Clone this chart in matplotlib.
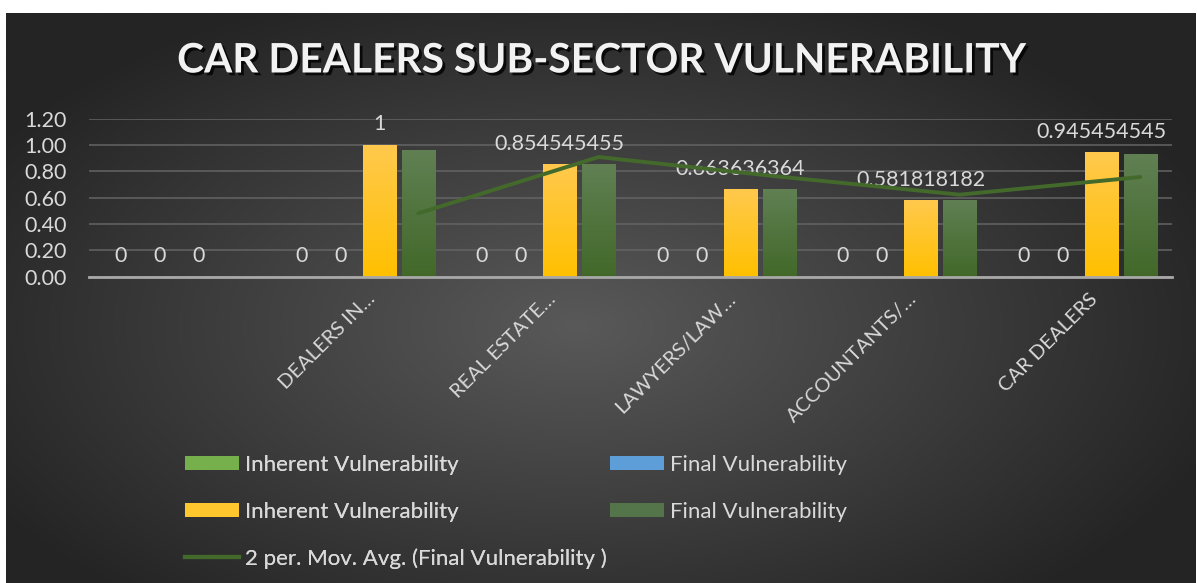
import numpy as np
import pandas as pd
import matplotlib
matplotlib.use('Agg')
import matplotlib.pyplot as plt
from matplotlib.colors import LinearSegmentedColormap, to_rgb
from matplotlib.patches import Patch
from matplotlib.lines import Line2D
import matplotlib.patheffects as pe

# ---------------- data ----------------
title = 'CAR DEALERS SUB-SECTOR VULNERABILITY'
categories = ['', 'DEALERS IN…', 'REAL ESTATE…', 'LAWYERS/LAW…', 'ACCOUNTANTS/…', 'CAR DEALERS']
inherent_a = [0, 0, 0, 0, 0, 0]
final_a = [0, 0, 0, 0, 0, 0]
inherent_b = [0, 1, 0.854545455, 0.663636364, 0.581818182, 0.945454545]
final_b = [0, 0.962, 0.856, 0.664, 0.582, 0.932]
yticks = [0.0, 0.2, 0.4, 0.6, 0.8, 1.0, 1.2]
legend_labels = ['Inherent Vulnerability', 'Final Vulnerability',
                 'Inherent Vulnerability', 'Final Vulnerability',
                 '2 per. Mov. Avg. (Final Vulnerability )']

plt.rcParams['font.family'] = ['Lato', 'DejaVu Sans']
TXT = '#d9d9d9'
W, H = 1197, 583
fig = plt.figure(figsize=(W / 100, H / 100), dpi=100)
fig.patch.set_facecolor('white')

# background radial gradient
bg = fig.add_axes([6 / W, 0, 1190 / W, 570 / H])
bg.set_axis_off()
yy, xx = np.mgrid[0:1:300j, 0:1:600j]
r = np.sqrt(((xx - 0.48) / 0.5) ** 2 + ((yy - 0.45) / 0.55) ** 2)
t = np.clip(r / 1.15, 0, 1)
c0 = np.array(to_rgb('#595959'))
c1 = np.array(to_rgb('#242424'))
img = c0[None, None, :] * (1 - t[..., None]) + c1[None, None, :] * t[..., None]
bg.imshow(img, extent=(0, 1, 0, 1), origin='lower', aspect='auto', interpolation='bicubic')
bg.set_xlim(0, 1)
bg.set_ylim(0, 1)

# main axes
ax = fig.add_axes([89 / W, (H - 276.7) / H, (1172 - 89) / W, (276.7 - 118.7) / H])
ax.set_facecolor('none')
x = np.arange(len(categories))
bw = 0.183
step = 0.216
offs = [-1.5 * step, -0.5 * step, 0.5 * step, 1.5 * step]
series = [inherent_a, final_a, inherent_b, final_b]
grads = [('#80BB5A', '#6AA840'), ('#66A6E0', '#5393CF'),
         ('#FFC94D', '#FFC000'), ('#608053', '#426829')]

def grad_bar(patch, c_top, c_bot):
    x0, y0 = patch.get_x(), patch.get_y()
    w, h = patch.get_width(), patch.get_height()
    if h <= 0:
        patch.set_visible(False)
        return
    cmap = LinearSegmentedColormap.from_list('g', [c_bot, c_top])
    g = np.linspace(0, 1, 256).reshape(-1, 1)
    im = ax.imshow(g, extent=(x0, x0 + w, y0, y0 + h), origin='lower', cmap=cmap,
                   aspect='auto', zorder=2, interpolation='bicubic')
    im.set_clip_path(patch)

bar_groups = []
for k, (vals, off, (ct, cb)) in enumerate(zip(series, offs, grads)):
    bars = ax.bar(x + off, vals, bw, color=cb, zorder=2, linewidth=0)
    for p in bars:
        grad_bar(p, ct, cb)
    bar_groups.append(bars)

# data labels for first three series
for k in range(3):
    for p, v in zip(bar_groups[k], series[k]):
        ax.annotate('%.9g' % v, xy=(p.get_x() + p.get_width() / 2, v),
                    xytext=(0, 14.8), textcoords='offset points', ha='center', va='center',
                    color=TXT, fontsize=15.5, zorder=3)

# moving average trendline of final_b
ma = pd.Series(final_b).rolling(2).mean()
mask = ma.notna().values
ax.plot((x + offs[3])[mask], ma.values[mask], color='#43692B', lw=2.8,
        solid_capstyle='round', zorder=4)

ax.set_xlim(-0.5, len(categories) - 0.5)
ax.set_ylim(0, 1.2)
ax.set_yticks(yticks)
ax.set_yticklabels(['%.2f' % v for v in yticks], color=TXT, fontsize=15.5)
ax.tick_params(axis='y', length=0, pad=16)
ax.set_xticks([])
ax.grid(axis='y', color='#646464', lw=1.1, zorder=0)
ax.set_axisbelow(True)
for s in ['top', 'right', 'left']:
    ax.spines[s].set_visible(False)
ax.spines['bottom'].set_color('#a8a8a8')
ax.spines['bottom'].set_linewidth(2)
ax.spines['bottom'].set_zorder(5)

for i, c in enumerate(categories):
    ax.annotate(c, xy=(i, 0), xycoords=('data', 'axes fraction'),
                xytext=(9, -14), textcoords='offset points', rotation=45,
                ha='right', va='center', rotation_mode='anchor',
                color=TXT, fontsize=14.5)

# title
fig.text(602 / W, (H - 61) / H, title, ha='center', va='center', color='#f2f2f2',
         fontsize=29.3, fontweight='bold',
         path_effects=[pe.withSimplePatchShadow(offset=(2, -2), shadow_rgbFace='black', alpha=0.8)])

# legend
h = [Patch(facecolor='#76B04D', edgecolor='none'),
     Patch(facecolor='#5D9DD8', edgecolor='none'),
     Patch(facecolor='#FFC62E', edgecolor='none'),
     Patch(facecolor='#537549', edgecolor='none'),
     Line2D([0], [0], color='#43692B', lw=3)]
kw = dict(frameon=False, fontsize=16, labelcolor=TXT, handlelength=2.45, handleheight=0.62,
          handletextpad=0.25, labelspacing=1.2, borderpad=0, borderaxespad=0, loc='upper left')
leg1 = fig.legend([h[0], h[2], h[4]], [legend_labels[0], legend_labels[2], legend_labels[4]],
                  bbox_to_anchor=(185 / W, (H - 455) / H), **kw)
fig.add_artist(leg1)
leg2 = fig.legend([h[1], h[3]], [legend_labels[1], legend_labels[3]],
                  bbox_to_anchor=(610 / W, (H - 455) / H), **kw)

fig.savefig('out.png', dpi=100, facecolor='white')
